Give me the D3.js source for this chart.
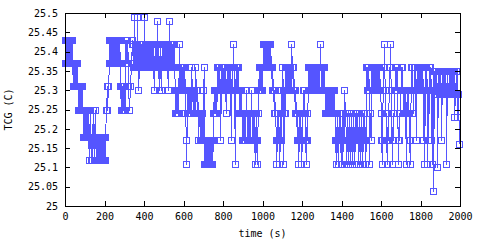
<!DOCTYPE html>
<html>
<head>
<meta charset="utf-8">
<script src="https://cdn.jsdelivr.net/npm/d3@7"></script>
<style>
    body { margin: 0; background: #fff; }
    text { font-family: "DejaVu Sans Mono", "Liberation Mono", monospace; font-size: 10px; fill: #000; }
</style>
</head>
<body>
<div id="chart"></div>
<script>

// TCG readings, one every sampleInterval seconds
const sampleInterval = 2.5;

// 0 - 497.5 s
const tcg0 = [
    25.43,25.37,25.43,25.37,25.43,25.37,25.43,25.37,25.43,25.37,25.43,25.37,25.43,25.37,25.43,25.37,
    25.31,25.37,25.31,25.37,25.31,25.37,25.31,25.37,25.31,25.37,
    25.25,25.31,25.25,25.31,25.25,25.31,25.25,25.31,25.25,25.31,
    25.18,25.25,25.18,25.25,25.18,25.25,25.18,25.25,25.18,25.25,
    25.25,25.18,25.12,25.18,25.25,25.18,25.12,25.18,25.12,25.18,25.25,25.18,25.12,25.18,25.25,25.18,25.12,25.18,25.12,25.18,
    25.12,25.18,25.12,25.18,25.12,25.18,25.12,25.18,25.12,25.18,25.12,25.18,25.12,25.18,25.12,25.18,
    25.18,25.25,25.25,25.31,25.25,25.31,25.31,25.37,
    25.43,25.37,25.43,25.37,25.43,25.37,25.43,25.37,25.43,25.37,25.43,25.37,
    25.43,25.37,25.43,25.37,25.43,25.37,25.43,25.37,25.43,25.37,
    25.31,25.25,25.31,25.25,25.31,25.25,25.31,25.25,25.31,25.25,
    25.43,25.37,25.43,25.37,25.43,25.37,
    25.31,25.25,25.25,25.31,25.31,25.37,25.37,25.43,
    25.42,25.36,25.42,25.36,25.49,25.36,25.42,25.36,25.42,25.36,25.49,25.36,25.30,25.36,
    25.42,25.36,25.42,25.36,25.42,25.36,25.42,25.36,25.42,25.36,25.49,25.36,
    25.42,25.36,25.42,25.36,25.42,25.36,25.42,25.36,25.42,25.36,25.42,25.36,25.42,25.36,25.42,25.36,25.42,25.36,
    25.30,25.36,25.42,25.36,25.42,25.36,25.48,25.36,25.42,25.36,25.30,25.36,25.42,25.36,25.30,25.36,
    25.42,25.36,25.42,25.36
];

// 500 - 997.5 s
const tcg1 = [
    25.42,25.36,25.42,25.36,25.42,25.36,25.42,25.36,25.30,25.36,25.48,25.36,
    25.42,25.36,25.42,25.36,25.42,25.36,25.42,25.36,25.42,25.36,
    25.30,25.24,25.30,25.24,25.30,25.24,25.30,25.24,25.42,25.30,
    25.36,25.30,25.36,25.30,25.36,25.30,25.36,25.30,25.36,25.30,25.36,25.30,
    25.24,25.17,25.11,25.24,
    25.30,25.24,25.30,25.24,25.30,25.24,25.30,25.24,25.36,25.30,25.30,25.24,25.30,25.24,25.30,25.24,
    25.36,25.30,25.30,25.24,25.30,25.24,
    25.17,25.24,25.24,25.17,25.24,25.17,25.24,25.17,25.24,25.17,25.30,25.36,
    25.11,25.17,25.11,25.17,25.11,25.17,25.11,25.17,25.11,25.17,25.11,25.17,25.11,25.17,25.11,25.17,25.11,25.17,
    25.24,25.30,25.24,25.30,25.24,25.30,25.24,25.30,25.36,25.30,25.36,25.30,
    25.36,25.30,25.17,25.30,25.36,25.30,25.36,25.30,25.36,25.30,25.36,25.30,25.36,25.30,25.24,25.30,
    25.36,25.30,25.36,25.30,25.36,25.30,25.36,25.30,25.17,25.30,25.36,25.30,25.42,25.36,25.36,25.30,
    25.11,25.30,25.36,25.30,25.36,25.30,25.36,25.30,
    25.30,25.24,25.30,25.24,25.30,25.24,25.24,25.17,25.24,25.17,25.24,25.17,25.24,25.17,
    25.30,25.24,25.24,25.17,25.24,25.17,25.24,25.17,25.24,25.17,25.30,25.24,
    25.24,25.17,25.24,25.17,25.24,25.17,25.11,25.17,25.24,25.17,25.11,25.17,25.24,25.30,
    25.36,25.30,25.36,25.30,25.36,25.30,25.36,25.30
];

// 1000 - 1497.5 s
const tcg2 = [
    25.42,25.36,25.42,25.36,25.42,25.36,25.42,25.36,25.42,25.36,25.42,25.36,25.42,25.36,25.42,25.36,25.42,25.36,
    25.36,25.30,25.36,25.30,
    25.30,25.24,25.30,25.24,25.24,25.17,25.11,25.17,25.24,25.17,25.24,25.17,25.11,25.17,25.24,25.17,
    25.30,25.24,25.36,25.30,25.11,25.24,25.30,25.24,
    25.36,25.30,25.36,25.30,25.36,25.30,25.36,25.30,25.36,25.30,25.36,25.30,25.42,25.36,25.36,25.30,25.36,25.30,
    25.30,25.24,25.30,25.24,25.24,25.17,25.24,25.17,25.11,25.17,25.24,25.17,25.24,25.17,25.11,25.17,
    25.24,25.17,25.30,25.24,25.30,25.24,25.24,25.17,25.11,25.17,25.24,25.17,
    25.36,25.30,25.36,25.30,25.36,25.30,25.36,25.30,25.36,25.30,25.36,25.30,
    25.36,25.30,25.36,25.30,25.36,25.30,25.36,25.30,25.36,25.30,25.36,25.30,25.42,25.36,
    25.36,25.30,25.36,25.30,25.36,25.30,25.36,25.30,
    25.30,25.24,25.30,25.24,25.30,25.24,25.30,25.24,25.30,25.24,25.30,25.24,25.30,25.24,25.30,25.24,25.30,25.24,25.30,25.24,
    25.24,25.17,25.11,25.17,25.24,25.17,25.11,25.17,25.24,25.17,25.24,25.17,25.11,25.17,25.24,25.17,25.11,25.17,
    25.24,25.17,25.30,25.24,25.24,25.17,25.11,25.17,25.24,25.17,25.11,25.17,
    25.24,25.17,25.11,25.17,25.24,25.17,25.11,25.17,25.24,25.17,25.11,25.17,25.24,25.17,25.24,25.17,
    25.24,25.17,25.11,25.17,25.24,25.17,25.11,25.17
];

// 1500 - 1992.5 s
const tcg3 = [
    25.24,25.17,25.11,25.17,25.24,25.17,25.24,25.17,25.11,25.17,
    25.36,25.30,25.36,25.30,25.36,25.30,
    25.11,25.24,25.24,25.17,
    25.36,25.30,25.36,25.30,25.36,25.30,25.36,25.30,25.36,25.30,25.36,25.30,25.36,25.30,25.36,25.30,
    25.36,25.30,25.30,25.24,25.24,25.17,25.11,25.17,25.36,25.30,25.42,25.36,25.30,25.24,25.24,25.17,
    25.11,25.17,25.24,25.17,25.36,25.30,25.42,25.36,25.30,25.24,25.11,25.17,25.24,25.17,25.30,25.24,
    25.36,25.30,25.36,25.30,25.36,25.30,25.11,25.17,25.24,25.17,25.30,25.24,25.36,25.30,25.36,25.30,
    25.30,25.24,25.30,25.24,25.30,25.24,25.11,25.24,25.30,25.24,25.30,25.24,25.24,25.17,25.11,25.17,
    25.36,25.30,25.36,25.30,25.30,25.24,25.36,25.30,25.36,25.30,25.17,25.30,
    25.36,25.30,25.36,25.30,25.36,25.30,25.36,25.30,25.36,25.30,25.36,25.30,25.36,25.30,
    25.17,25.30,25.11,25.30,25.36,25.30,25.36,25.30,25.11,25.30,25.17,25.30,25.36,25.30,25.36,25.30,25.17,25.30,
    25.11,25.35,25.04,25.35,25.35,25.29,25.35,25.29,25.35,25.29,25.10,25.35,
    25.35,25.29,25.35,25.29,25.35,25.29,25.17,25.35,
    25.35,25.29,25.35,25.29,25.35,25.29,25.35,25.29,25.11,25.35,25.35,25.29,
    25.29,25.35,25.29,25.35,25.29,25.35,25.29,25.35,25.29,25.35,25.29,25.35,
    25.23,25.29,25.29,25.35,25.29,25.35,25.23,25.29,25.29,25.16
];

const xTicks = [0, 200, 400, 600, 800, 1000, 1200, 1400, 1600, 1800, 2000];
const yTicks = [25, 25.05, 25.1, 25.15, 25.2, 25.25, 25.3, 25.35, 25.4, 25.45, 25.5];

const tcg = tcg0.concat(tcg1, tcg2, tcg3);
const data = tcg.map((v, i) => ({time: i * sampleInterval, temp: v}));

let width = 480, height = 240;
let plot = {left: 65, right: 460, top: 13, bottom: 206};
let lineColor = "#5555ff";

let svg = d3.select("#chart").append("svg")
    .attr("width", width)
    .attr("height", height)
    .style("display", "block");

let x = d3.scaleLinear().domain([0, 2000]).range([plot.left, plot.right]);
let y = d3.scaleLinear().domain([25, 25.5]).range([plot.bottom, plot.top]);

// data line (gnuplot png look: no antialiasing)
let line = d3.line()
    .x(d => Math.round(x(d.time)) + 0.5)
    .y(d => Math.round(y(d.temp)) + 0.5);

svg.append("path")
    .datum(data)
    .attr("fill", "none")
    .attr("stroke", lineColor)
    .attr("stroke-width", 1)
    .attr("shape-rendering", "crispEdges")
    .attr("d", line);

// open square markers
svg.append("g").selectAll("rect")
    .data(data)
    .enter().append("rect")
    .attr("x", d => Math.round(x(d.time)) - 2.5)
    .attr("y", d => Math.round(y(d.temp)) - 2.5)
    .attr("width", 6)
    .attr("height", 6)
    .attr("fill", "none")
    .attr("stroke", lineColor)
    .attr("stroke-width", 1)
    .attr("shape-rendering", "crispEdges");

// axes, gnuplot style: ticks pointing inward, mirrored
let xAxis = d3.axisBottom(x).tickValues(xTicks).tickFormat(d3.format("d"))
    .tickSizeInner(-5).tickSizeOuter(0).tickPadding(7);
let yAxis = d3.axisLeft(y).tickValues(yTicks).tickFormat(d => String(+d.toFixed(2)))
    .tickSizeInner(-5).tickSizeOuter(0).tickPadding(7);

let gx = svg.append("g")
    .attr("transform", `translate(0, ${plot.bottom})`)
    .call(xAxis);
let gy = svg.append("g")
    .attr("transform", `translate(${plot.left}, 0)`)
    .call(yAxis);

svg.append("g")
    .attr("transform", `translate(0, ${plot.top})`)
    .call(d3.axisTop(x).tickValues(xTicks).tickFormat("").tickSizeInner(-5).tickSizeOuter(0));
svg.append("g")
    .attr("transform", `translate(${plot.right}, 0)`)
    .call(d3.axisRight(y).tickValues(yTicks).tickFormat("").tickSizeInner(-5).tickSizeOuter(0));

svg.selectAll(".domain").remove();
svg.selectAll(".tick line").attr("stroke", "#000").attr("shape-rendering", "crispEdges");
svg.selectAll(".tick text").style("font-family", null).style("font-size", null).attr("fill", "#000");
gx.selectAll("text").attr("dy", "0.71em");

// border
svg.append("rect")
    .attr("x", plot.left + 0.5)
    .attr("y", plot.top + 0.5)
    .attr("width", plot.right - plot.left)
    .attr("height", plot.bottom - plot.top)
    .attr("fill", "none")
    .attr("stroke", "#000")
    .attr("stroke-width", 1)
    .attr("shape-rendering", "crispEdges");

// titles
svg.append("text")
    .attr("x", (plot.left + plot.right) / 2)
    .attr("y", 237)
    .attr("text-anchor", "middle")
    .text("time (s)");

svg.append("text")
    .attr("transform", `translate(12, ${(plot.top + plot.bottom) / 2}) rotate(-90)`)
    .attr("text-anchor", "middle")
    .text("TCG (C)");

</script>
</body>
</html>
